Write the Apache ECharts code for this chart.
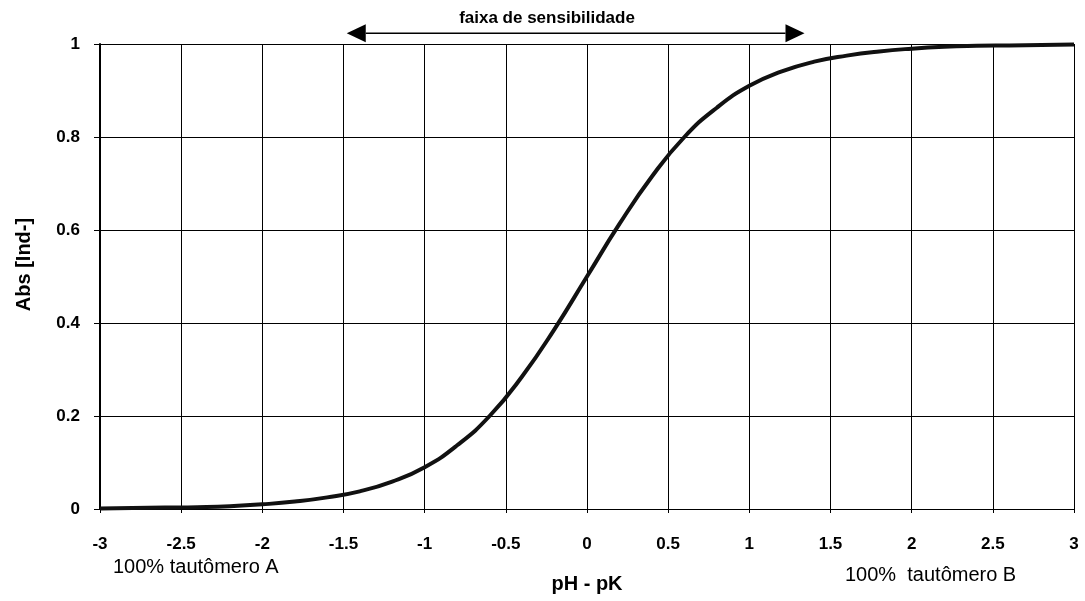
<!DOCTYPE html>
<html>
<head>
<meta charset="utf-8">
<script src="https://cdn.jsdelivr.net/npm/echarts@6/dist/echarts.min.js"></script>
<style>
  html, body { margin: 0; padding: 0; background: #fff; }
  #chart { width: 1085px; height: 601px; }
</style>
</head>
<body>
<div id="chart"></div>
<script type="text/javascript">
// pH - pK (eixo x)
var phpk = [-3, -2.8, -2.6, -2.4, -2.2, -2, -1.8, -1.6, -1.4, -1.2, -1, -0.8, -0.6, -0.4, -0.2,
            0, 0.2, 0.4, 0.6, 0.8, 1, 1.2, 1.4, 1.6, 1.8, 2, 2.2, 2.4, 2.6, 2.8, 3];
// Abs [Ind-]
var abs = [0.001, 0.002, 0.003, 0.004, 0.006, 0.010, 0.016, 0.025, 0.038, 0.059, 0.090, 0.137, 0.200, 0.285, 0.387,
           0.500, 0.613, 0.715, 0.800, 0.863, 0.910, 0.941, 0.962, 0.975, 0.984, 0.990, 0.994, 0.996, 0.997, 0.998, 0.999];
// faixa de sensibilidade (seta), em unidades de pH - pK
var faixa = [-1.48, 1.34];
var faixaY = 1.023;

var pontos = [];
for (var i = 0; i < phpk.length; i++) {
    pontos.push([phpk[i], abs[i]]);
}

var fonte = '"Liberation Sans", Arial, sans-serif';
var myChart = echarts.init(document.getElementById('chart'));
var option = {
    animation: false,
    backgroundColor: '#fff',
    grid: { left: 100, right: 11, top: 44, bottom: 92 },
    xAxis: {
        type: 'value',
        min: -3, max: 3, interval: 0.5,
        name: 'pH - pK',
        nameLocation: 'middle',
        nameGap: 65,
        nameTextStyle: { fontFamily: fonte, fontWeight: 'bold', fontSize: 20, color: '#000' },
        axisLine: { show: true, onZero: false, lineStyle: { color: '#000', width: 1 } },
        axisTick: { show: true, length: 4, lineStyle: { color: '#000' } },
        axisLabel: { fontFamily: fonte, fontWeight: 'bold', fontSize: 17, color: '#000', margin: 27 },
        splitLine: { show: true, lineStyle: { color: '#000', width: 1 } }
    },
    yAxis: {
        type: 'value',
        min: 0, max: 1, interval: 0.2,
        name: 'Abs [Ind-]',
        nameLocation: 'middle',
        nameGap: 66,
        nameTextStyle: { fontFamily: fonte, fontWeight: 'bold', fontSize: 20, color: '#000', padding: [0, 0, 0, 24] },
        axisLine: { show: true, onZero: false, lineStyle: { color: '#000', width: 2 } },
        axisTick: { show: true, length: 6, lineStyle: { color: '#000' } },
        axisLabel: { fontFamily: fonte, fontWeight: 'bold', fontSize: 17, color: '#000', margin: 20 },
        splitLine: { show: true, lineStyle: { color: '#000', width: 1 } }
    },
    series: [{
        type: 'line',
        data: pontos,
        smooth: true,
        showSymbol: false,
        lineStyle: { color: '#111', width: 4 }
    }]
};
myChart.setOption(option);

// seta da faixa de sensibilidade, posicionada pela escala do eixo
var p0 = myChart.convertToPixel({ gridIndex: 0 }, [faixa[0], faixaY]);
var p1 = myChart.convertToPixel({ gridIndex: 0 }, [faixa[1], faixaY]);
var cab = 19, alt = 9;
myChart.setOption({
    graphic: [
        {
            type: 'text', left: 113, top: 557,
            style: { text: '100% tautômero A', fontFamily: fonte, fontSize: 20, fill: '#000' }
        },
        {
            type: 'text', left: 845, top: 565,
            style: { text: '100%  tautômero B', fontFamily: fonte, fontSize: 20, fill: '#000' }
        },
        {
            type: 'line',
            shape: { x1: p0[0] + cab, y1: p0[1], x2: p1[0] - cab, y2: p1[1] },
            style: { stroke: '#000', lineWidth: 1.5 }
        },
        {
            type: 'polygon',
            shape: { points: [[p0[0], p0[1]], [p0[0] + cab, p0[1] - alt], [p0[0] + cab, p0[1] + alt]] },
            style: { fill: '#000' }
        },
        {
            type: 'polygon',
            shape: { points: [[p1[0], p1[1]], [p1[0] - cab, p1[1] - alt], [p1[0] - cab, p1[1] + alt]] },
            style: { fill: '#000' }
        },
        {
            type: 'text', x: 547, y: 18,
            style: {
                text: 'faixa de sensibilidade', fontFamily: fonte, fontWeight: 'bold', fontSize: 17,
                fill: '#000', align: 'center', verticalAlign: 'middle'
            }
        }
    ]
});
</script>
</body>
</html>
